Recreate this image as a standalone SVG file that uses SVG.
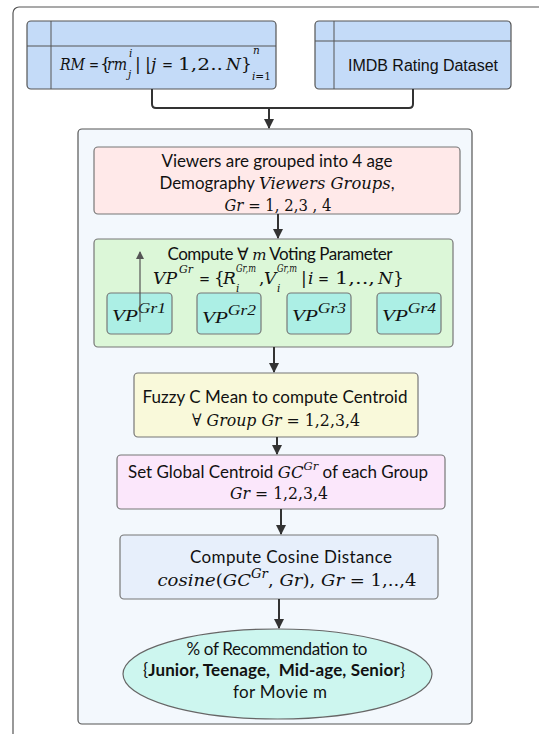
<svg xmlns="http://www.w3.org/2000/svg" width="539" height="734" viewBox="0 0 539 734">
<style>
.t{font-family:Lato,"Open Sans",sans-serif;font-size:17px;fill:#111;text-anchor:middle}
.f{font-family:"DejaVu Serif",serif;font-size:17px;fill:#111}
.m{font-family:"DejaVu Serif",serif;font-style:italic}
.u{font-family:"DejaVu Serif",serif;font-style:normal}
.lm{font-family:"Liberation Serif",serif;font-style:italic}
.s{font-size:10.5px}
.conn{stroke:#333;stroke-width:2;fill:none}
.box{stroke:#777;stroke-width:1.2}
</style>
<defs>
<marker id="ah" markerWidth="10" markerHeight="10" refX="9" refY="5" orient="auto" markerUnits="userSpaceOnUse">
<path d="M0,0 L10,5 L0,10 Z" fill="#333"/>
</marker>
<marker id="ah2" markerWidth="8" markerHeight="8" refX="7" refY="4" orient="auto" markerUnits="userSpaceOnUse">
<path d="M0,0 L8,4 L0,8 Z" fill="#555"/>
</marker>
</defs>
<rect width="539" height="734" fill="#fff"/>
<rect id="frame" x="13" y="7" width="560" height="760" rx="6" fill="#fff" stroke="#555" stroke-width="1.2"/>

<g id="rm">
<rect x="27" y="21" width="249" height="68" rx="4" fill="#c4dbf8" stroke="#555" stroke-width="1.2"/>
<line x1="51" y1="21" x2="51" y2="89" stroke="#555"/>
<line x1="27" y1="46" x2="276" y2="46" stroke="#555"/>
<text class="f m" x="60" y="70" textLength="25" lengthAdjust="spacingAndGlyphs">RM</text>
<text class="f u" x="89" y="70" textLength="10" lengthAdjust="spacingAndGlyphs">=</text>
<text class="f u" x="100" y="70">{</text>
<text class="f m" x="107" y="70" textLength="20" lengthAdjust="spacingAndGlyphs">rm</text>
<text class="f m s" x="129" y="57">i</text>
<text class="f m s" x="128" y="78">j</text>
<text class="f u" x="135" y="70">|</text>
<text class="f u" x="145" y="70">|</text>
<text class="f m" x="151" y="70">j</text>
<text class="f u" x="162" y="70" textLength="11" lengthAdjust="spacingAndGlyphs">=</text>
<text class="f u" x="178" y="70" textLength="45" lengthAdjust="spacingAndGlyphs">1,2..</text>
<text class="f m" x="226" y="70">N</text>
<text class="f u" x="241" y="70">}</text>
<text class="f m s" x="253" y="54">n</text>
<text class="f s" x="252" y="80" textLength="19" lengthAdjust="spacingAndGlyphs"><tspan class="m">i</tspan><tspan class="u">=1</tspan></text>
</g>

<g id="imdb">
<rect x="315" y="21" width="196" height="68" rx="4" fill="#c4dbf8" stroke="#555" stroke-width="1.2"/>
<line x1="334" y1="21" x2="334" y2="89" stroke="#555"/>
<line x1="315" y1="41" x2="511" y2="41" stroke="#555"/>
<text x="423" y="71" font-family="Liberation Sans,Arial,sans-serif" font-size="16" text-anchor="middle" fill="#111" textLength="150">IMDB Rating Dataset</text>
</g>

<g id="container">
<rect x="78" y="129" width="394" height="595" rx="4" fill="#f3f8fd" stroke="#555" stroke-width="1.2"/>
</g>

<g id="groups">
<rect class="box" x="94" y="147" width="366" height="67" rx="4" fill="#ffe9e9"/>
<text class="t" x="277" y="167" textLength="231">Viewers are grouped into 4 age</text>
<text class="t" x="277" y="189" textLength="235" lengthAdjust="spacingAndGlyphs">Demography <tspan class="m" font-size="16.5">Viewers Groups</tspan>,</text>
<text class="t" x="278" y="211" font-size="17" textLength="107" lengthAdjust="spacingAndGlyphs"><tspan class="m">Gr</tspan><tspan class="u"> = 1, 2,3 , 4</tspan></text>
</g>

<g id="voting">
<rect class="box" x="94" y="239" width="359" height="108" rx="4" fill="#dcf7d8"/>
<text class="t" x="280" y="260" font-size="15.5" textLength="225">Compute ∀ <tspan class="m" font-size="15">m</tspan> Voting Parameter</text>
<text class="f m" x="153" y="284" textLength="24" lengthAdjust="spacingAndGlyphs">VP</text>
<text class="f m s" x="179" y="273" textLength="14" lengthAdjust="spacingAndGlyphs">Gr</text>
<text class="f u" x="199" y="284" textLength="11" lengthAdjust="spacingAndGlyphs">=</text>
<text class="f u" x="214" y="284">{</text>
<text class="f m" x="223" y="284">R</text>
<text class="f m s" x="236" y="272" textLength="20" lengthAdjust="spacingAndGlyphs">Gr,m</text>
<text class="f m s" x="236" y="292">i</text>
<text class="f u" x="259" y="284">,</text>
<text class="f m" x="264" y="284">V</text>
<text class="f m s" x="277" y="272" textLength="20" lengthAdjust="spacingAndGlyphs">Gr,m</text>
<text class="f m s" x="277" y="292">i</text>
<text class="f u" x="301" y="284">|</text>
<text class="f m" x="308" y="284">i</text>
<text class="f u" x="318" y="284" textLength="11" lengthAdjust="spacingAndGlyphs">=</text>
<text class="f u" x="335" y="284" textLength="40" lengthAdjust="spacingAndGlyphs">1,..,</text>
<text class="f m" x="378" y="284">N</text>
<text class="f u" x="393" y="284">}</text>
</g>
<g id="vp1"><rect class="box" x="107" y="293" width="65" height="41" rx="4" fill="#acefe5"/><text class="t lm" x="139" y="321" font-size="21" textLength="54" lengthAdjust="spacingAndGlyphs">VP<tspan font-size="14" dy="-8">Gr1</tspan></text></g>
<g id="vp2"><rect class="box" x="197" y="293" width="64" height="41" rx="4" fill="#acefe5"/><text class="t lm" x="229" y="323" font-size="21" textLength="54" lengthAdjust="spacingAndGlyphs">VP<tspan font-size="14" dy="-8">Gr2</tspan></text></g>
<g id="vp3"><rect class="box" x="287" y="293" width="64" height="41" rx="4" fill="#acefe5"/><text class="t lm" x="319" y="321" font-size="21" textLength="54" lengthAdjust="spacingAndGlyphs">VP<tspan font-size="14" dy="-8">Gr3</tspan></text></g>
<g id="vp4"><rect class="box" x="377" y="293" width="64" height="41" rx="4" fill="#acefe5"/><text class="t lm" x="409" y="321" font-size="21" textLength="54" lengthAdjust="spacingAndGlyphs">VP<tspan font-size="14" dy="-8">Gr4</tspan></text></g>

<g id="fuzzy">
<rect class="box" x="134" y="373" width="284" height="64" rx="4" fill="#f9f9da"/>
<text class="t" x="275" y="403" textLength="265">Fuzzy C Mean to compute Centroid</text>
<text class="t" x="276" y="426" font-size="17" textLength="168" lengthAdjust="spacingAndGlyphs"><tspan class="u">∀ </tspan><tspan class="m">Group Gr</tspan><tspan class="u"> = 1,2,3,4</tspan></text>
</g>

<g id="global">
<rect class="box" x="117" y="455" width="328" height="54" rx="4" fill="#fbe7fb"/>
<text class="t" x="278" y="478" textLength="300" lengthAdjust="spacingAndGlyphs">Set Global Centroid <tspan class="m" font-size="16.5">GC<tspan font-size="11.5" dy="-8">Gr</tspan></tspan><tspan dy="8"> of each Group</tspan></text>
<text class="t" x="279" y="499" font-size="17" textLength="98" lengthAdjust="spacingAndGlyphs"><tspan class="m">Gr</tspan><tspan class="u"> = 1,2,3,4</tspan></text>
</g>

<g id="cosine">
<rect class="box" x="120" y="535" width="318" height="64" rx="4" fill="#e7effb"/>
<text class="t" x="291" y="563" font-size="19.5" textLength="202">Compute Cosine Distance</text>
<text class="t" x="287" y="586" font-size="18.5" textLength="259" lengthAdjust="spacingAndGlyphs"><tspan class="m">cosine</tspan><tspan class="u">(</tspan><tspan class="m">GC<tspan font-size="12.5" dy="-8">Gr</tspan></tspan><tspan class="u" dy="8">, </tspan><tspan class="m">Gr</tspan><tspan class="u">), </tspan><tspan class="m">Gr</tspan><tspan class="u"> = 1,..,4</tspan></text>
</g>

<g id="result">
<ellipse cx="277.5" cy="674" rx="154.5" ry="45" fill="#cdf6ef" stroke="#666" stroke-width="1.2"/>
<text class="t" x="277" y="655" font-size="15.5" textLength="181">% of Recommendation to</text>
<text class="t" x="274" y="676" font-size="15.5" textLength="262">{<tspan font-weight="bold">Junior, Teenage,&#160; Mid-age, Senior</tspan>}</text>
<text class="t" x="280" y="698" font-size="15.5" textLength="94">for Movie m</text>
</g>

<g id="connectors">
<path class="conn" stroke-width="2.5" d="M152,89 V104 Q152,108 156,108 H409 Q413,108 413,104 V89"/>
<line class="conn" x1="269" y1="108" x2="269" y2="128" marker-end="url(#ah)"/>
<line class="conn" x1="278" y1="214" x2="278" y2="238" marker-end="url(#ah)"/>
<line stroke="#555" stroke-width="1.2" x1="140" y1="322" x2="140" y2="252" marker-end="url(#ah2)"/>
<line class="conn" x1="274" y1="347" x2="274" y2="372" marker-end="url(#ah)"/>
<line class="conn" x1="277" y1="437" x2="277" y2="454" marker-end="url(#ah)"/>
<line class="conn" x1="281" y1="509" x2="281" y2="534" marker-end="url(#ah)"/>
<line class="conn" x1="279" y1="599" x2="279" y2="628" marker-end="url(#ah)"/>
</g>
</svg>
